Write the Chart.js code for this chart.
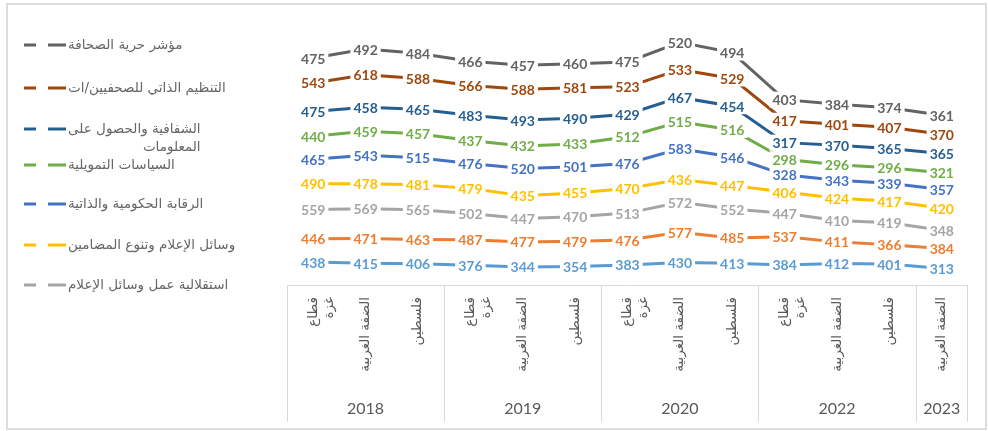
<!DOCTYPE html>
<html><head><meta charset="utf-8">
<style>html,body{margin:0;padding:0;background:#fff;overflow:hidden}#wrap{width:988px;height:431px;position:relative}</style>
<script src="https://cdn.jsdelivr.net/npm/chart.js@4.4.1/dist/chart.umd.min.js"></script>
</head><body><div id="wrap"><canvas id="c" width="988" height="431"></canvas></div>
<script>
// Categories (region) and their year groups
const regions = ['قطاع غزة','الضفة الغربية','فلسطين','قطاع غزة','الضفة الغربية','فلسطين','قطاع غزة','الضفة الغربية','فلسطين','قطاع غزة','الضفة الغربية','فلسطين','الضفة الغربية'];
const years = ['2018','2018','2018','2019','2019','2019','2020','2020','2020','2022','2022','2022','2023'];

// Series names (bottom of the stack first)
const seriesNames = [
  'البيئة القانونية',
  'السلامة المهنية',
  'استقلالية عمل وسائل الإعلام',
  'وسائل الإعلام وتنوع المضامين',
  ' الرقابة الحكومية والذاتية',
  'السياسات التمويلية',
  'الشفافية والحصول على المعلومات',
  'التنظيم الذاتي للصحفيين/ات',
  'مؤشر حرية الصحافة'
];
const seriesColors = ['#5B9BD5','#ED7D31','#A5A5A5','#FFC000','#4472C4','#70AD47','#255E91','#9E480E','#636363'];

// Series values (stacked line chart)
const s1 = [438,415,406,376,344,354,383,430,413,384,412,401,313];
const s2 = [446,471,463,487,477,479,476,577,485,537,411,366,384];
const s3 = [559,569,565,502,447,470,513,572,552,447,410,419,348];
const s4 = [490,478,481,479,435,455,470,436,447,406,424,417,420];
const s5 = [465,543,515,476,520,501,476,583,546,328,343,339,357];
const s6 = [440,459,457,437,432,433,512,515,516,298,296,296,321];
const s7 = [475,458,465,483,493,490,429,467,454,317,370,365,365];
const s8 = [543,618,588,566,588,581,523,533,529,417,401,407,370];
const s9 = [475,492,484,466,457,460,475,520,494,403,384,374,361];
const seriesValues = [s1,s2,s3,s4,s5,s6,s7,s8,s9];

// Legend entries shown (top to bottom), as dataset indices
const legendOrder = [8,7,6,5,4,3,2];

const ARABIC = '"DejaVu Sans", "Noto Sans", sans-serif';

const frameAndAxisPlugin = {
  id: 'frameAxis',
  beforeDraw(chart) {
    const ctx = chart.ctx;
    ctx.save();
    ctx.strokeStyle = '#dddddd';
    ctx.lineWidth = 2;
    ctx.strokeRect(7, 4, 979, 425);
    ctx.restore();
  },
  afterDraw(chart) {
    const ctx = chart.ctx;
    const xs = chart.scales.x;
    const ca = chart.chartArea;
    const band = xs.getPixelForValue(1) - xs.getPixelForValue(0);
    const bottom = 422;
    ctx.save();
    ctx.strokeStyle = '#d9d9d9';
    ctx.lineWidth = 1;
    ctx.beginPath();
    ctx.moveTo(ca.left, ca.bottom + 0.5); ctx.lineTo(ca.right, ca.bottom + 0.5);
    ctx.moveTo(ca.left + 0.5, ca.bottom); ctx.lineTo(ca.left + 0.5, bottom);
    ctx.moveTo(ca.right - 0.5, ca.bottom); ctx.lineTo(ca.right - 0.5, bottom);
    let start = 0;
    const groups = [];
    for (let i = 1; i <= years.length; i++) {
      if (i === years.length || years[i] !== years[start]) {
        groups.push([start, i - 1]);
        if (i < years.length) {
          const x = Math.round(xs.getPixelForValue(i) - band / 2) + 0.5;
          ctx.moveTo(x, ca.bottom); ctx.lineTo(x, bottom);
        }
        start = i;
      }
    }
    ctx.stroke();
    ctx.fillStyle = '#595959';
    ctx.font = '16px Lato, "Liberation Sans", sans-serif';
    ctx.textAlign = 'center';
    ctx.textBaseline = 'middle';
    groups.forEach(([a, b]) => {
      const x = (xs.getPixelForValue(a) + xs.getPixelForValue(b)) / 2;
      ctx.fillText(years[a], x, 409);
    });

    // Legend
    const rowY = [45, 88, 129, 165, 204, 245, 285];
    ctx.font = '13.5px ' + ARABIC;
    ctx.textBaseline = 'middle';
    legendOrder.forEach((di, k) => {
      const ds = chart.data.datasets[di];
      const y = rowY[k];
      ctx.strokeStyle = ds.borderColor;
      ctx.lineWidth = 3;
      ctx.beginPath();
      ctx.moveTo(24, y); ctx.lineTo(36, y);
      ctx.moveTo(48, y); ctx.lineTo(66, y);
      ctx.stroke();
      let lines = [ds.label];
      if (ctx.measureText(ds.label).width > 180) {
        const words = ds.label.split(' ');
        lines = [words.slice(0, words.length - 1).join(' '), words[words.length - 1]];
      }
      const w = Math.max(...lines.map(l => ctx.measureText(l).width));
      ctx.fillStyle = '#666666';
      ctx.direction = 'rtl';
      ctx.textAlign = 'right';
      lines.forEach((l, j) => ctx.fillText(l, 68 + w, y + j * 18));
      ctx.direction = 'ltr';
    });
    ctx.restore();
  }
};

const dataLabelPlugin = {
  id: 'dataLabels',
  afterDatasetsDraw(chart) {
    const ctx = chart.ctx;
    ctx.save();
    ctx.font = 'bold 14px Lato, "Liberation Sans", sans-serif';
    ctx.textAlign = 'center';
    ctx.textBaseline = 'middle';
    chart.data.datasets.forEach((ds, di) => {
      const meta = chart.getDatasetMeta(di);
      meta.data.forEach((pt, i) => {
        const txt = String(ds.data[i]);
        const w = ctx.measureText(txt).width + 6;
        ctx.fillStyle = '#ffffff';
        ctx.fillRect(pt.x - w / 2, pt.y - 8, w, 16);
        ctx.fillStyle = ds.borderColor;
        ctx.fillText(txt, pt.x, pt.y + 1);
      });
    });
    ctx.restore();
  }
};

new Chart(document.getElementById('c'), {
  type: 'line',
  data: {
    labels: regions,
    datasets: seriesValues.map((vals, i) => ({
      label: seriesNames[i],
      data: vals,
      borderColor: seriesColors[i],
      backgroundColor: seriesColors[i],
      borderWidth: 3,
      pointRadius: 0,
      tension: 0,
      fill: false
    }))
  },
  options: {
    responsive: false,
    animation: false,
    devicePixelRatio: 1,
    layout: { padding: { top: 23, left: 287, right: 20, bottom: 0 } },
    plugins: { legend: { display: false }, tooltip: { enabled: false } },
    scales: {
      x: {
        offset: true,
        grid: { display: false, drawTicks: false },
        border: { display: false },
        ticks: {
          autoSkip: false,
          minRotation: 90,
          maxRotation: 90,
          padding: 12,
          color: '#595959',
          font: { family: ARABIC, size: 13.5 },
          callback: function(v) {
            const l = regions[v];
            return l === 'قطاع غزة' ? l.split(' ') : l;
          }
        },
        afterFit(scale) { scale.height = 146; }
      },
      y: {
        stacked: true,
        display: false,
        min: 0,
        max: 5000
      }
    }
  },
  plugins: [frameAndAxisPlugin, dataLabelPlugin]
});
</script>
</body></html>
